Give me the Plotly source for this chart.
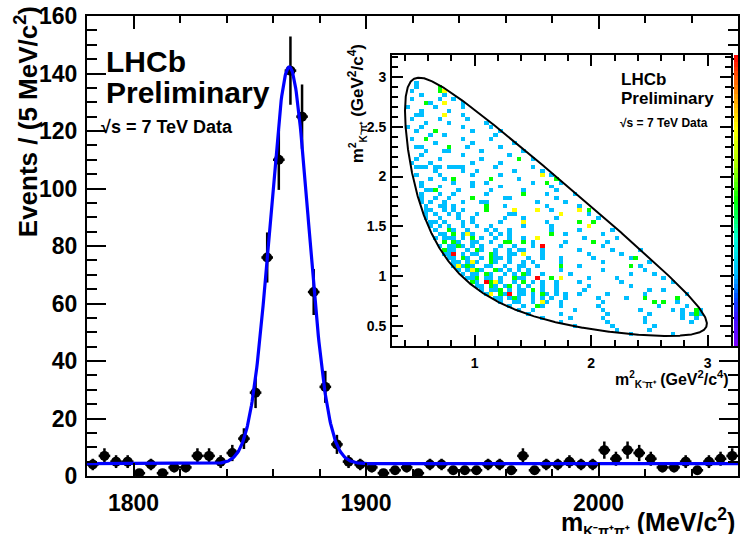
import numpy as np
import plotly.graph_objects as go

# ---------------- data ----------------
MASS_CENTERS = [1782.5, 1787.5, 1792.5, 1797.5, 1802.5, 1807.5, 1812.5, 1817.5,
                1822.5, 1827.5, 1832.5, 1837.5, 1842.5, 1847.5, 1852.5, 1857.5,
                1862.5, 1867.5, 1872.5, 1877.5, 1882.5, 1887.5, 1892.5, 1897.5,
                1902.5, 1907.5, 1912.5, 1917.5, 1922.5, 1927.5, 1932.5, 1937.5,
                1942.5, 1947.5, 1952.5, 1957.5, 1962.5, 1967.5, 1972.5, 1977.5,
                1982.5, 1987.5, 1992.5, 1997.5, 2002.5, 2007.5, 2012.5, 2017.5,
                2022.5, 2027.5, 2032.5, 2037.5, 2042.5, 2047.5, 2052.5, 2057.5]
COUNTS = [4, 7, 5, 5, 1, 4, 1, 3,
          3, 7, 7, 5, 8, 13, 29, 76,
          110, 141, 125, 64, 31, 11, 5, 4,
          3, 1, 2, 3, 1, 4, 4, 2,
          2, 2, 4, 4, 2, 7, 2, 4,
          4, 5, 4, 4, 9, 6, 9, 8,
          6, 3, 3, 5, 2, 5, 6, 7]
BIN_HALF_WIDTH = 2.5

# fit model parameters (Gaussian signal + flat background)
FIT_MEAN = 1867.0
FIT_SIGMA = 8.3
FIT_AMPL = 138.0
FIT_BKG = 4.3

# Dalitz-plot kinematics (GeV)
M_D, M_K, M_PI = 1.8696, 0.4937, 0.1396

# Dalitz histogram cells, top row first; b=1, g=2, y=3, r=4 entries
DALITZ_X0, DALITZ_Y0, DALITZ_BIN = 0.42, 0.42, 0.04
DALITZ_ROWS = [
    "",
    "..b..",
    "..b.. ..g",
    ".b... ..gy",
    "...b. ...b. .",
    ".b... ..b.. b.",
    "....g b..y. ..b",
    "b.... .b... ..b.",
    "...b. ....b .....",
    "..bb. ...y. ..b.. .",
    ".b... ..b.. ...b. ..",
    "....b ....b ..... ..b.",
    "b..b. ..... ..b.. ...b.",
    "..b.. .g... ....b ..... b",
    "..... b..b. ..... ....b ..",
    ".b..g ..... ..b.. ...b. ...",
    "..... .b... ....b ..... ...b",
    "..bb. ....g ...b. ..... b....",
    "....b ...bb ..... .b... ..... b",
    "...b. ..... ..b.. ..... ..b.. ..",
    "..b.. ..b.. ..... .b... ....g ..b",
    ".b... b.... ....b ..... b.... ....",
    "..bbb .bb.b bbb.. ....b ..... ..b..",
    "..... .b... ..b.. b.... ...b. ....b .",
    "..b.. ..b.. ....b ..... b.... ....y .b",
    "..... b..b. g.... ...g. ....b ..... ..g",
    "...b. ..... b...b ..b.. ..... ..b.. g..b",
    "...b. ..b.. ....b ..... b.... ..... .b...",
    "....b bg... .b... ...b. ..... b.... ..b.. .",
    "...b. ..b.. b.... ..b.. ..... g.... b.... .b",
    "...b. .b..b ....g ..... .bb.. ..... ..b.. ...",
    "...b. b..b. ..b.. .bb.. ..... ...b. ....b ....",
    "....b ..bb. b.... ..g.. .b... ..... b.... ..b..",
    "....b b..b. b.b.. ..g.. ...y. ...y. .b... ..y.g .",
    "....b .b..b .b... b.... ..bb. ..... ...y. ....b ..",
    "....b ..b.. .b..b ..... .b... b.... ..b.. ..... .b.",
    "..... bb.b. ..b.b ..... b.... y.... b.... ..g.. g...",
    "..... b.b.b ..b.. b..b. ..... b.... .b... ....y .....",
    "..... .b..g b..b. ..b.b ..b.. ..... .b... ..b.. ....b",
    "..... ..bb. g.byb ...b. b.b.. ..... .g..b ..... ..b.. ..",
    "..... .b.bb b.b.g .b..b ..b.. b..y. ..... ...b. ..... b..",
    "..... ...g. gb..b b..b. .gg.. g.b.. ....b ..... g..b. ....",
    "..... ..b.b bgb.b .b... b..b. ..b.r ...b. ..... ..b.. .....",
    "..... ...gb b..b. gb..b ..b.b b...b ..... ..b.. ....b ..... b",
    "..... ...bb r.b.b b..gb ..bb. y...b ..... ....b ..... .b... ..",
    "..... ....b b.gb. .b.gb b.b.. .b..b ...b. ..... b.... ...bg ...",
    "..... ..... bb.by b..gb ..b.. b.b.. ...b. ..... ..b.. ..... ..b.",
    "..... ..... bybgb ..bb. .b..b b..b. ...g. ..b.. ..... ...g. b..",
    "..... ..... .b.by gb..g b.b.b .b... ...b. ..... ..b.. ..... .b...",
    "..... ..... ..b.b b.gb. .b.b. gb..b ..... b.... ..... ...b. ...b. .",
    "..... ..... ...bb g.bb. b..gb b..r. .g.y. ....b ..... b.... ..... b.",
    "..... ..... ....g b.rgy b..b. g.b.b ..b.. ..b.. ..... .b... ..... ..b",
    "..... ..... ..... bb.gb .bg.b .b..b ..b.. ....b ..... ...b. ..... ....",
    "..... ..... ..... .b.bb g.b.b b.g.b ..b.. ...b. ..... ..... ..b.. b...",
    "..... ..... ..... ..by. gbr.b b.b.g b.b.b ..b.. ...b. ..... .b... ..... b",
    "..... ..... ..... ....b b.bgb ..b.b .b..b ..... .b... ..b.. .g... ...g. .",
    "..... ..... ..... ..... b..bb ..b.y b..b. ..... ..b.. ..... ...g. g..b. .",
    "..... ..... ..... ..... ..b.. b..gb ...b. ..... .b... ..... ....b ..... b..",
    "..... ..... ..... ..... ....b ..b.. ..... .b... ..b.. ..... b.... ..b.b ..gb",
    "..... ..... ..... ..... ..... .b... ...b. ..... ...b. ..... ..b.. ....b .bgb",
    "..... ..... ..... ..... ..... ....b ..... b.... ..b.. ..... .b... ....b ..b.",
    "..... ..... ..... ..... ..... ..... ...b. ..... ...b. ..... .b... ..... .b...",
    "..... ..... ..... ..... ..... ..... ..... .b... ....b ..... ...b. .....",
    "..... ..... ..... ..... ..... ..... ..... ..... ..... b.... ..b.. .....",
    "..... ..... ..... ..... ..... ..... ..... ..... ..... ...b. ..... ..b..",
]
CELL_LEVEL = {"b": 1, "g": 2, "y": 3, "r": 4}
N_COLS = 65

RAINBOW = [[0.0, "#7f00ff"], [0.10, "#3a10ff"], [0.17, "#0050ff"],
           [0.25, "#00bfff"], [0.37, "#00ffd8"], [0.50, "#00ff00"],
           [0.62, "#a8ff00"], [0.75, "#ffff00"], [0.86, "#ff9a00"],
           [1.0, "#ff0000"]]
PALETTE_LEVELS = [i * 4 / 63 for i in range(64)]

# ---------------- geometry ----------------
W, H = 740, 534
L, T, R, B = 87, 16, 0, 58
PW, PH = W - L - R, H - T - B


def px(xp):
    return (xp - L) / PW


def py(yp):
    return (H - B - yp) / PH


FONT = "Liberation Sans, Arial, sans-serif"

fig = go.Figure()

# main histogram with error bars
fig.add_trace(go.Scatter(
    x=MASS_CENTERS, y=COUNTS, mode="markers",
    marker=dict(color="black", size=10, symbol="circle"),
    error_y=dict(type="data", array=[np.sqrt(c) for c in COUNTS],
                 color="black", thickness=2.5, width=0),
    error_x=dict(type="constant", value=BIN_HALF_WIDTH,
                 color="black", thickness=2.5, width=0),
    xaxis="x", yaxis="y", showlegend=False, hoverinfo="skip"))

# fit curve
mx = np.linspace(1780, 2060, 1121)
fit = FIT_BKG + FIT_AMPL * np.exp(-0.5 * ((mx - FIT_MEAN) / FIT_SIGMA) ** 2)
fig.add_trace(go.Scatter(x=mx, y=fit, mode="lines",
                         line=dict(color="#0000ff", width=3.2),
                         xaxis="x", yaxis="y", showlegend=False,
                         hoverinfo="skip"))

# Dalitz histogram
z = []
for row in reversed(DALITZ_ROWS):
    cells = row.replace(" ", "").ljust(N_COLS, ".")
    z.append([CELL_LEVEL.get(ch, np.nan) for ch in cells])
fig.add_trace(go.Heatmap(
    z=z, x0=DALITZ_X0, dx=DALITZ_BIN, y0=DALITZ_Y0, dy=DALITZ_BIN,
    zmin=0, zmax=4, colorscale=RAINBOW, showscale=False,
    xaxis="x2", yaxis="y2", hoverinfo="skip"))

# Dalitz kinematic boundary


def dalitz_limits(s):
    m12 = np.sqrt(s)
    e2 = (s - M_PI ** 2 + M_K ** 2) / (2 * m12)
    e3 = (M_D ** 2 - s - M_PI ** 2) / (2 * m12)
    p2 = np.sqrt(np.clip(e2 ** 2 - M_K ** 2, 0, None))
    p3 = np.sqrt(np.clip(e3 ** 2 - M_PI ** 2, 0, None))
    tot = (e2 + e3) ** 2
    return tot - (p2 + p3) ** 2, tot - (p2 - p3) ** 2


s_min, s_max = (M_K + M_PI) ** 2, (M_D - M_PI) ** 2
tt = np.linspace(0, np.pi, 600)
ss = s_min + (s_max - s_min) * (1 - np.cos(tt)) / 2
lo, hi = dalitz_limits(ss)
bx = np.concatenate([ss, ss[::-1]])
by = np.concatenate([hi, lo[::-1]])
fig.add_trace(go.Scatter(x=bx, y=by, mode="lines",
                         line=dict(color="black", width=2),
                         xaxis="x2", yaxis="y2", showlegend=False,
                         hoverinfo="skip"))

# palette strip
fig.add_trace(go.Heatmap(
    z=[[v] for v in PALETTE_LEVELS], x=[0], y=PALETTE_LEVELS,
    zmin=0, zmax=4, colorscale=RAINBOW, showscale=False,
    xaxis="x3", yaxis="y3", hoverinfo="skip"))

tickfont_main = dict(family=FONT, size=23, color="black", weight="bold")
tickfont_in = dict(family=FONT, size=14, color="black", weight="bold")

inset_x = [px(393), px(733)]
inset_y = [py(346), py(55)]

fig.update_layout(
    width=W, height=H, margin=dict(l=L, r=R, t=T, b=B, pad=0),
    paper_bgcolor="white", plot_bgcolor="white",
    xaxis=dict(domain=[0, 1], range=[1780, 2060], anchor="y",
               tickmode="linear", tick0=1800, dtick=100,
               ticks="inside", ticklen=13, tickwidth=2, tickcolor="black",
               minor=dict(ticks="inside", ticklen=7, tickwidth=2,
                          tickcolor="black", dtick=20, tick0=1800),
               showline=True, linewidth=2, linecolor="black", mirror="ticks",
               showgrid=False, zeroline=False, tickfont=tickfont_main,
               ticklabelstandoff=5),
    yaxis=dict(domain=[0, 1], range=[0, 160], anchor="x",
               tickmode="linear", tick0=0, dtick=20,
               ticks="inside", ticklen=19, tickwidth=2, tickcolor="black",
               minor=dict(ticks="inside", ticklen=10, tickwidth=2,
                          tickcolor="black", dtick=5, tick0=0),
               showline=True, linewidth=2, linecolor="black", mirror="ticks",
               showgrid=False, zeroline=False, tickfont=tickfont_main,
               ticklabelstandoff=3),
    xaxis2=dict(domain=inset_x, range=[0.29, 3.2], anchor="y2",
                tickmode="linear", tick0=0, dtick=1,
                ticks="inside", ticklen=11, tickwidth=2, tickcolor="black",
                minor=dict(ticks="inside", ticklen=6, tickwidth=2,
                           tickcolor="black", dtick=0.2, tick0=0),
                showline=True, linewidth=2, linecolor="black", mirror="ticks",
                showgrid=False, zeroline=False, tickfont=tickfont_in,
                ticklabelstandoff=3),
    yaxis2=dict(domain=inset_y, range=[0.3, 3.22], anchor="x2",
                tickmode="linear", tick0=0.5, dtick=0.5,
                ticks="inside", ticklen=11, tickwidth=2, tickcolor="black",
                minor=dict(ticks="inside", ticklen=6, tickwidth=2,
                           tickcolor="black", dtick=0.1, tick0=0),
                showline=True, linewidth=2, linecolor="black", mirror="ticks",
                showgrid=False, zeroline=False, tickfont=tickfont_in,
                ticklabelstandoff=1),
    xaxis3=dict(domain=[px(736), 1], anchor="y3", visible=False,
                range=[-0.5, 0.5], fixedrange=True),
    yaxis3=dict(domain=inset_y, anchor="x3", visible=False,
                range=[0, 4], fixedrange=True),
)


def txt(text, xp, yp, size, xanchor="left", yanchor="middle", angle=0,
        bold=True):
    return dict(text=text, x=px(xp), y=py(yp), xref="paper", yref="paper",
                xanchor=xanchor, yanchor=yanchor, textangle=angle,
                showarrow=False,
                font=dict(family=FONT, size=size, color="black",
                          weight="bold" if bold else "normal"))


SUB_MAIN = "<sub><span style='font-size:14px'>K⁻π⁺π⁺</span></sub>"
SUB_IN = "<sub><span style='font-size:10px'>K⁻π⁺</span></sub>"
SUP_IN = "<sup><span style='font-size:10px'>2</span></sup>"

annotations = [
    txt("LHCb", 104, 61.5, 30),
    txt("Preliminary", 104, 92.5, 30),
    txt("√s = 7 TeV Data", 99, 126.5, 18),
    txt("LHCb", 621, 79, 17),
    txt("Preliminary", 621, 99, 17),
    txt("√s = 7 TeV Data", 620, 123, 12),
    txt("Events / (5 MeV/c<sup>2</sup>)", 26, 122, 26, xanchor="center",
        angle=-90),
    txt("m" + SUB_MAIN + " (MeV/c<sup>2</sup>)", 739, 521, 25,
        xanchor="right"),
    txt("m" + SUP_IN + SUB_IN + " (GeV<sup>2</sup>/c<sup>4</sup>)",
        358, 104, 17, xanchor="center", angle=-90),
    txt("m" + SUP_IN + SUB_IN + " (GeV<sup>2</sup>/c<sup>4</sup>)",
        733, 379, 16, xanchor="right"),
]
fig.update_layout(annotations=annotations)

fig.write_html("out.html")
